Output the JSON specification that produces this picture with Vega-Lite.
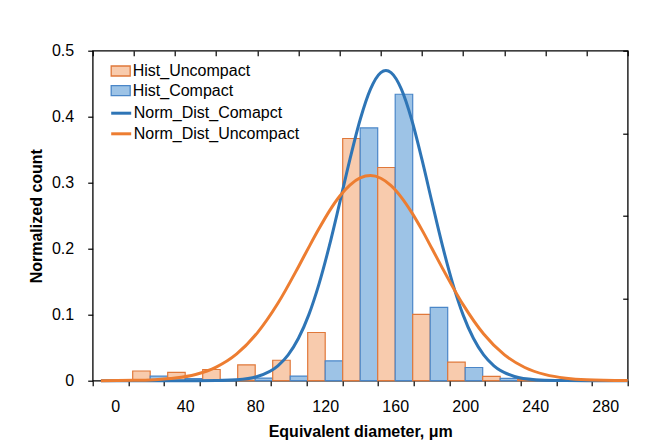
{
  "$schema": "https://vega.github.io/schema/vega-lite/v6.json",
  "autosize": "none",
  "width": 535,
  "height": 330,
  "padding": {"left": 92.7, "top": 50.7, "right": 41.3, "bottom": 60.3},
  "background": "white",
  "config": {
    "font": "Liberation Sans",
    "view": {"stroke": "black", "strokeWidth": 1.3},
    "axis": {"tickColor": "black", "tickWidth": 1.2, "domain": false, "grid": false, "labelColor": "black", "titleColor": "black", "labelFont": "Liberation Sans", "titleFont": "Liberation Sans"},
    "legend": {"labelFont": "Liberation Sans", "labelColor": "black", "labelLimit": 0}
  },
  "datasets": {
    "hist": [
      {"bin": 20, "series": "Hist_Uncompact", "value": 0.0147},
      {"bin": 20, "series": "Hist_Compact", "value": 0.007},
      {"bin": 40, "series": "Hist_Uncompact", "value": 0.0127},
      {"bin": 40, "series": "Hist_Compact", "value": 0.003},
      {"bin": 60, "series": "Hist_Uncompact", "value": 0.017},
      {"bin": 60, "series": "Hist_Compact", "value": 0.002},
      {"bin": 80, "series": "Hist_Uncompact", "value": 0.024},
      {"bin": 80, "series": "Hist_Compact", "value": 0.004},
      {"bin": 100, "series": "Hist_Uncompact", "value": 0.031},
      {"bin": 100, "series": "Hist_Compact", "value": 0.007},
      {"bin": 120, "series": "Hist_Uncompact", "value": 0.073},
      {"bin": 120, "series": "Hist_Compact", "value": 0.030},
      {"bin": 140, "series": "Hist_Uncompact", "value": 0.367},
      {"bin": 140, "series": "Hist_Compact", "value": 0.383},
      {"bin": 160, "series": "Hist_Uncompact", "value": 0.323},
      {"bin": 160, "series": "Hist_Compact", "value": 0.434},
      {"bin": 180, "series": "Hist_Uncompact", "value": 0.1006},
      {"bin": 180, "series": "Hist_Compact", "value": 0.111},
      {"bin": 200, "series": "Hist_Uncompact", "value": 0.028},
      {"bin": 200, "series": "Hist_Compact", "value": 0.020},
      {"bin": 220, "series": "Hist_Uncompact", "value": 0.0067},
      {"bin": 220, "series": "Hist_Compact", "value": 0.0036},
      {"bin": 240, "series": "Hist_Uncompact", "value": 0.002},
      {"bin": 240, "series": "Hist_Compact", "value": 0.001},
      {"bin": 260, "series": "Hist_Uncompact", "value": 0.001},
      {"bin": 260, "series": "Hist_Compact", "value": 0.0}
    ],
    "curves": [
      {"curve": "Norm_Dist_Comapct", "d": 4, "pdf": 0},
      {"curve": "Norm_Dist_Comapct", "d": 50, "pdf": 0.000001},
      {"curve": "Norm_Dist_Comapct", "d": 60, "pdf": 0.00001},
      {"curve": "Norm_Dist_Comapct", "d": 70, "pdf": 0.000057},
      {"curve": "Norm_Dist_Comapct", "d": 80, "pdf": 0.000254},
      {"curve": "Norm_Dist_Comapct", "d": 90, "pdf": 0.000901},
      {"curve": "Norm_Dist_Comapct", "d": 95, "pdf": 0.001565},
      {"curve": "Norm_Dist_Comapct", "d": 100, "pdf": 0.00257},
      {"curve": "Norm_Dist_Comapct", "d": 105, "pdf": 0.00399},
      {"curve": "Norm_Dist_Comapct", "d": 110, "pdf": 0.00587},
      {"curve": "Norm_Dist_Comapct", "d": 115, "pdf": 0.00817},
      {"curve": "Norm_Dist_Comapct", "d": 120, "pdf": 0.01076},
      {"curve": "Norm_Dist_Comapct", "d": 125, "pdf": 0.01341},
      {"curve": "Norm_Dist_Comapct", "d": 130, "pdf": 0.01583},
      {"curve": "Norm_Dist_Comapct", "d": 135, "pdf": 0.01767},
      {"curve": "Norm_Dist_Comapct", "d": 140, "pdf": 0.01867},
      {"curve": "Norm_Dist_Comapct", "d": 142.5, "pdf": 0.0188},
      {"curve": "Norm_Dist_Comapct", "d": 145, "pdf": 0.01867},
      {"curve": "Norm_Dist_Comapct", "d": 150, "pdf": 0.01767},
      {"curve": "Norm_Dist_Comapct", "d": 155, "pdf": 0.01583},
      {"curve": "Norm_Dist_Comapct", "d": 160, "pdf": 0.01341},
      {"curve": "Norm_Dist_Comapct", "d": 165, "pdf": 0.01076},
      {"curve": "Norm_Dist_Comapct", "d": 170, "pdf": 0.00817},
      {"curve": "Norm_Dist_Comapct", "d": 175, "pdf": 0.00587},
      {"curve": "Norm_Dist_Comapct", "d": 180, "pdf": 0.00399},
      {"curve": "Norm_Dist_Comapct", "d": 185, "pdf": 0.00257},
      {"curve": "Norm_Dist_Comapct", "d": 190, "pdf": 0.001565},
      {"curve": "Norm_Dist_Comapct", "d": 195, "pdf": 0.000901},
      {"curve": "Norm_Dist_Comapct", "d": 205, "pdf": 0.000254},
      {"curve": "Norm_Dist_Comapct", "d": 215, "pdf": 0.000057},
      {"curve": "Norm_Dist_Comapct", "d": 225, "pdf": 0.00001},
      {"curve": "Norm_Dist_Comapct", "d": 240, "pdf": 0.000001},
      {"curve": "Norm_Dist_Comapct", "d": 260, "pdf": 0},
      {"curve": "Norm_Dist_Uncompact", "d": 4, "pdf": 0.000003},
      {"curve": "Norm_Dist_Uncompact", "d": 20, "pdf": 0.00002},
      {"curve": "Norm_Dist_Uncompact", "d": 30, "pdf": 0.00006},
      {"curve": "Norm_Dist_Uncompact", "d": 40, "pdf": 0.000159},
      {"curve": "Norm_Dist_Uncompact", "d": 50, "pdf": 0.000379},
      {"curve": "Norm_Dist_Uncompact", "d": 60, "pdf": 0.000823},
      {"curve": "Norm_Dist_Uncompact", "d": 70, "pdf": 0.00162},
      {"curve": "Norm_Dist_Uncompact", "d": 80, "pdf": 0.0029},
      {"curve": "Norm_Dist_Uncompact", "d": 90, "pdf": 0.00469},
      {"curve": "Norm_Dist_Uncompact", "d": 100, "pdf": 0.00691},
      {"curve": "Norm_Dist_Uncompact", "d": 105, "pdf": 0.00808},
      {"curve": "Norm_Dist_Uncompact", "d": 110, "pdf": 0.00922},
      {"curve": "Norm_Dist_Uncompact", "d": 115, "pdf": 0.01028},
      {"curve": "Norm_Dist_Uncompact", "d": 120, "pdf": 0.01118},
      {"curve": "Norm_Dist_Uncompact", "d": 125, "pdf": 0.01186},
      {"curve": "Norm_Dist_Uncompact", "d": 130, "pdf": 0.01229},
      {"curve": "Norm_Dist_Uncompact", "d": 135, "pdf": 0.01243},
      {"curve": "Norm_Dist_Uncompact", "d": 140, "pdf": 0.01227},
      {"curve": "Norm_Dist_Uncompact", "d": 145, "pdf": 0.01182},
      {"curve": "Norm_Dist_Uncompact", "d": 150, "pdf": 0.01111},
      {"curve": "Norm_Dist_Uncompact", "d": 155, "pdf": 0.0102},
      {"curve": "Norm_Dist_Uncompact", "d": 160, "pdf": 0.00914},
      {"curve": "Norm_Dist_Uncompact", "d": 165, "pdf": 0.00798},
      {"curve": "Norm_Dist_Uncompact", "d": 170, "pdf": 0.00681},
      {"curve": "Norm_Dist_Uncompact", "d": 180, "pdf": 0.00461},
      {"curve": "Norm_Dist_Uncompact", "d": 190, "pdf": 0.00283},
      {"curve": "Norm_Dist_Uncompact", "d": 200, "pdf": 0.00158},
      {"curve": "Norm_Dist_Uncompact", "d": 210, "pdf": 0.0008},
      {"curve": "Norm_Dist_Uncompact", "d": 220, "pdf": 0.000367},
      {"curve": "Norm_Dist_Uncompact", "d": 230, "pdf": 0.000153},
      {"curve": "Norm_Dist_Uncompact", "d": 240, "pdf": 0.000058},
      {"curve": "Norm_Dist_Uncompact", "d": 260, "pdf": 0.000006}
    ]
  },
  "layer": [
    {
      "data": {"name": "hist"},
      "mark": {"type": "point", "opacity": 0},
      "encoding": {
        "x": {
          "field": "bin", "type": "quantitative",
          "scale": {"domain": [-10, 290], "nice": false, "zero": false},
          "axis": {"orient": "bottom", "values": [-10, 10, 30, 50, 70, 90, 110, 130, 150, 170, 190, 210, 230, 250, 270, 290], "labels": false, "ticks": true, "tickSize": 5, "title": null, "domain": false}
        }
      }
    },
    {
      "data": {"name": "hist"},
      "transform": [
        {"calculate": "datum.series === 'Hist_Uncompact' ? datum.bin - 10 : datum.bin", "as": "x0"},
        {"calculate": "datum.x0 + 10", "as": "x1"}
      ],
      "mark": {"type": "bar", "strokeWidth": 1.2, "opacity": 1, "orient": "vertical"},
      "encoding": {
        "x": {
          "field": "x0", "type": "quantitative",
          "scale": {"domain": [-10, 290], "nice": false, "zero": false},
          "axis": {"orient": "bottom", "values": [0, 40, 80, 120, 160, 200, 240, 280], "ticks": false, "labelFontSize": 16, "labelPadding": 18, "title": "Equivalent diameter, μm", "titleFontSize": 16, "titleFontWeight": "bold", "titlePadding": 9, "domain": false, "labelFlush": false}
        },
        "x2": {"field": "x1"},
        "y": {
          "field": "value", "type": "quantitative",
          "scale": {"domain": [0, 0.5], "nice": false},
          "axis": {"orient": "left", "values": [0, 0.1, 0.2, 0.3, 0.4, 0.5], "format": ".1~f", "tickSize": 5, "labelFontSize": 16, "labelPadding": 14, "title": "Normalized count", "titleFontSize": 16, "titleFontWeight": "bold", "titlePadding": 7, "domain": false, "labelFlush": false}
        },
        "y2": {"datum": 0},
        "fill": {
          "field": "series", "type": "nominal",
          "scale": {"domain": ["Hist_Uncompact", "Hist_Compact"], "range": ["#F8CBAD", "#9DC3E6"]},
          "legend": {"orient": "none", "legendX": 17, "legendY": 9.3, "title": null, "symbolType": "M-0.95,-0.5H0.95V0.5H-0.95Z", "symbolSize": 400, "symbolStrokeWidth": 1.3, "labelFontSize": 16, "labelOffset": 1, "rowPadding": 0.6, "padding": 0, "symbolOpacity": 1}
        },
        "stroke": {
          "field": "series", "type": "nominal",
          "scale": {"domain": ["Hist_Uncompact", "Hist_Compact"], "range": ["#E0783A", "#4A86C8"]},
          "legend": {"orient": "none", "legendX": 17, "legendY": 9.3, "title": null, "symbolType": "M-0.95,-0.5H0.95V0.5H-0.95Z", "symbolSize": 400, "symbolStrokeWidth": 1.3, "labelFontSize": 16, "labelOffset": 1, "rowPadding": 0.6, "padding": 0, "symbolOpacity": 1}
        }
      }
    },
    {
      "data": {"name": "curves"},
      "mark": {"type": "line", "strokeWidth": 3, "interpolate": "monotone"},
      "encoding": {
        "x": {
          "field": "d", "type": "quantitative",
          "scale": {"domain": [0, 260], "nice": false, "zero": false},
          "axis": {"orient": "top", "values": [0, 20, 40, 60, 80, 100, 120, 140, 160, 180, 200, 220, 240, 260], "labels": false, "tickSize": -5, "title": null, "domain": false}
        },
        "y": {
          "field": "pdf", "type": "quantitative",
          "scale": {"domain": [0, 0.02], "nice": false},
          "axis": {"orient": "right", "values": [0, 0.005, 0.01, 0.015, 0.02], "labels": false, "tickSize": -5, "title": null, "domain": false}
        },
        "color": {
          "field": "curve", "type": "nominal",
          "scale": {"domain": ["Norm_Dist_Comapct", "Norm_Dist_Uncompact"], "range": ["#2E75B6", "#ED7D31"]},
          "legend": {"orient": "none", "legendX": 17, "legendY": 51, "title": null, "symbolType": "stroke", "symbolSize": 400, "symbolStrokeWidth": 3, "labelFontSize": 16, "labelOffset": 1, "rowPadding": 0.6, "padding": 0, "labelLimit": 0}
        }
      }
    }
  ],
  "resolve": {
    "scale": {"x": "independent", "y": "independent", "color": "independent", "fill": "independent", "stroke": "independent"},
    "axis": {"x": "independent", "y": "independent"},
    "legend": {"color": "independent", "fill": "independent", "stroke": "independent"}
  }
}
